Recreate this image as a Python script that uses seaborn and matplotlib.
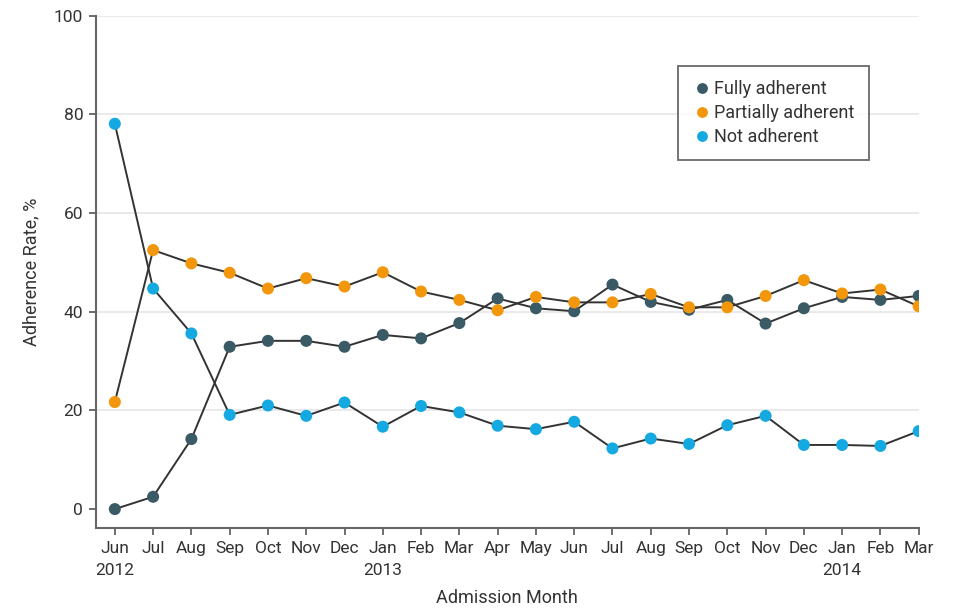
import numpy as np
import pandas as pd
import matplotlib
matplotlib.use("Agg")
import matplotlib.pyplot as plt
import seaborn as sns

months = ["Jun", "Jul", "Aug", "Sep", "Oct", "Nov", "Dec", "Jan", "Feb", "Mar", "Apr",
          "May", "Jun", "Jul", "Aug", "Sep", "Oct", "Nov", "Dec", "Jan", "Feb", "Mar"]
years = {0: "2012", 7: "2013", 19: "2014"}

fully = [0.0, 2.5, 14.2, 32.9, 34.1, 34.1, 32.9, 35.3, 34.6, 37.7, 42.7,
         40.7, 40.1, 45.5, 42.0, 40.4, 42.4, 37.6, 40.7, 43.0, 42.4, 43.2]
partially = [21.7, 52.5, 49.8, 47.9, 44.7, 46.8, 45.1, 48.0, 44.1, 42.4, 40.3,
             43.0, 41.9, 41.9, 43.6, 40.9, 40.9, 43.2, 46.4, 43.7, 44.5, 41.1]
not_adherent = [78.1, 44.7, 35.6, 19.1, 21.0, 18.9, 21.6, 16.7, 20.9, 19.6, 16.9,
                16.2, 17.7, 12.3, 14.3, 13.2, 17.0, 18.9, 13.0, 13.0, 12.8, 15.8]

series = ["Fully adherent", "Partially adherent", "Not adherent"]
colors = ["#3a5a66", "#f2960c", "#15a9e2"]

rows = []
for name, vals in zip(series, [fully, partially, not_adherent]):
    for i, v in enumerate(vals):
        rows.append({"idx": i, "value": v, "group": name})
df = pd.DataFrame(rows)

sns.set_theme(style="white")
font_list = ["Roboto", "DejaVu Sans"]
plt.rcParams["font.family"] = font_list
text_color = "#333333"

fig = plt.figure(figsize=(9.54, 6.11), dpi=100)
ax = fig.add_axes([0.1003, 0.1353, 0.963 - 0.1003, 0.9743 - 0.1353])

sns.lineplot(data=df, x="idx", y="value", units="group", estimator=None,
             color="#333333", linewidth=1.4, ax=ax, zorder=2, legend=False)
sns.scatterplot(data=df, x="idx", y="value", hue="group", hue_order=series,
                palette=colors, s=75, edgecolor="none", linewidth=0, ax=ax, zorder=3)

ax.set_xlim(-0.5, 21)
ax.set_ylim(-3.9, 100)
ax.set_yticks([0, 20, 40, 60, 80, 100])
ax.set_xticks(range(len(months)))
labels = [m + ("\n" + years[i] if i in years else "\n") for i, m in enumerate(months)]
ax.set_xticklabels(labels)

ax.grid(axis="y", color="#e6e6e6", linewidth=1.2)
ax.set_axisbelow(True)
ax.yaxis.get_gridlines()[0].set_visible(False)

for side in ["top", "right"]:
    ax.spines[side].set_visible(False)
for side in ["left", "bottom"]:
    ax.spines[side].set_color("#666666")
    ax.spines[side].set_linewidth(1.5)

ax.tick_params(axis="both", which="major", direction="out", length=5, width=1.2,
               color="#555555", labelsize=12.5, labelcolor=text_color,
               bottom=True, left=True, pad=4)
for lab in ax.get_xticklabels():
    lab.set_linespacing(1.6)

ax.set_xlabel("Admission Month", fontsize=13, color=text_color, labelpad=8)
ax.set_ylabel("Adherence Rate, %", fontsize=13, color=text_color, labelpad=10)

handles, lbls = ax.get_legend_handles_labels()
leg = ax.legend(handles, lbls, loc="upper left", bbox_to_anchor=(0.7077, 0.902),
                frameon=True, fancybox=False, fontsize=13, handletextpad=0.2,
                handlelength=1.0, borderpad=0.8, labelspacing=0.32, markerscale=0.9,
                borderaxespad=0)
leg.get_frame().set_edgecolor("#444444")
leg.get_frame().set_linewidth(1.3)
for t in leg.get_texts():
    t.set_color(text_color)

fig.savefig("out.png", dpi=100)
